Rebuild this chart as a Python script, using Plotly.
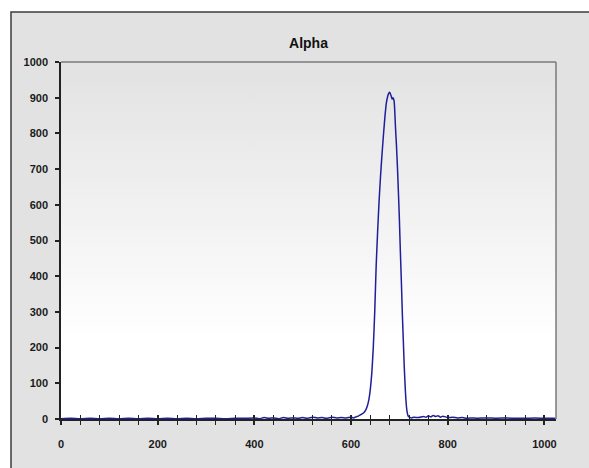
import plotly.graph_objects as go

# Spectrum channel positions and counts
channel = [0, 20, 40, 60, 80, 100, 120, 140, 160, 180, 200, 220, 240, 260, 280, 300,
           320, 340, 360, 380, 400, 410, 420, 430, 440, 450, 460, 470, 480, 490, 500,
           510, 520, 530, 540, 550, 560, 570, 580, 590, 600, 605, 610, 615, 620, 625,
           630, 634, 637, 640, 643, 646, 649, 652, 655, 658, 661, 664, 667, 670, 673,
           676, 678, 680, 683, 685, 687, 689, 690, 692, 694, 696, 698, 700, 702, 704,
           706, 708, 710, 712, 714, 716, 718, 720, 725, 730, 740, 750, 755, 760, 765,
           770, 775, 780, 785, 790, 800, 810, 820, 830, 840, 850, 860, 880, 900, 920,
           940, 960, 980, 1000, 1020, 1023]
counts = [1, 2, 1, 2, 1, 2, 1, 2, 1, 2, 1, 2, 1, 2, 1, 2,
          2, 1, 2, 2, 3, 1, 4, 2, 3, 1, 4, 2, 3, 2, 4,
          2, 5, 3, 4, 2, 5, 3, 4, 3, 5, 3, 6, 8, 12, 16,
          24, 38, 55, 85, 130, 200, 300, 430, 525, 610, 680, 740, 795, 845, 885,
          905, 912, 915, 905, 896, 900, 892, 875, 815, 765, 705, 635, 560, 470, 390,
          300, 225, 150, 90, 45, 20, 9, 6, 3, 5, 4, 7, 5, 9, 6,
          10, 7, 9, 5, 8, 4, 5, 3, 4, 2, 3, 2, 3, 2, 3,
          2, 2, 3, 2, 2, 1]

x_ticks = [0, 200, 400, 600, 800, 1000]
y_ticks = [0, 100, 200, 300, 400, 500, 600, 700, 800, 900, 1000]
x_range = [0, 1024]
y_range = [0, 1000]

W, H = 589, 468
L, R, T, B = 61, 33, 62, 48.5
pw, ph = W - L - R, H - T - B

tick_font = dict(family="Liberation Sans, Arial, sans-serif", size=11,
                 color="#1a1a1a", weight="bold")
line_dark = "#222222"

fig = go.Figure()

# plot-area background: light grey at the top fading to white toward the bottom
fig.add_trace(go.Scatter(
    x=[x_range[0], x_range[1], x_range[1], x_range[0], x_range[0]],
    y=[y_range[0], y_range[0], y_range[1], y_range[1], y_range[0]],
    fill="toself", mode="none", hoverinfo="skip", showlegend=False,
    fillgradient=dict(type="vertical",
                      colorscale=[[0, "#ffffff"], [0.22, "#ffffff"], [1, "#e2e2e2"]]),
))

fig.add_trace(go.Scatter(
    x=channel, y=counts, mode="lines",
    line=dict(color="#1f1f9a", width=1.5, shape="spline", smoothing=0.5),
    showlegend=False, hoverinfo="skip",
))

# phantom trace so the overlay axis carrying the inner ticks is rendered
fig.add_trace(go.Scatter(x=[None], y=[None], xaxis="x2", showlegend=False, hoverinfo="skip"))

fig.update_layout(
    width=W, height=H,
    margin=dict(l=L, r=R, t=T, b=B),
    paper_bgcolor="#ffffff",
    plot_bgcolor="rgba(0,0,0,0)",
    title=dict(text="<b>Alpha</b>", x=(L + pw / 2) / W, xanchor="center",
               y=1 - 43 / H, yanchor="middle", yref="container",
               font=dict(family="Liberation Sans, Arial, sans-serif", size=14, color="#111111")),
    xaxis=dict(
        range=x_range, tickmode="array", tickvals=x_ticks,
        ticktext=[str(v) for v in x_ticks],
        ticks="outside", ticklen=4, tickwidth=1.5, tickcolor=line_dark,
        minor=dict(dtick=40, tick0=0, ticks="outside", ticklen=4, tickwidth=1, tickcolor=line_dark),
        showline=True, linecolor=line_dark, linewidth=1.5,
        showgrid=False, zeroline=False, layer="below traces",
        tickfont=tick_font, ticklabelstandoff=10,
    ),
    xaxis2=dict(
        range=x_range, overlaying="x", side="bottom", anchor="y",
        tickmode="array", tickvals=x_ticks, showticklabels=False,
        ticks="inside", ticklen=4, tickwidth=1.5, tickcolor=line_dark,
        minor=dict(dtick=40, tick0=0, ticks="inside", ticklen=4, tickwidth=1, tickcolor=line_dark),
        showline=False, showgrid=False, zeroline=False,
    ),
    yaxis=dict(
        range=y_range, tickmode="array", tickvals=y_ticks,
        ticktext=[str(v) for v in y_ticks],
        ticks="outside", ticklen=4, tickwidth=1.5, tickcolor=line_dark,
        showline=True, linecolor=line_dark, linewidth=1.5,
        showgrid=False, zeroline=False,
        tickfont=tick_font, ticklabelstandoff=5,
    ),
    shapes=[
        # outer chart frame
        dict(type="rect", xref="paper", yref="paper", layer="below",
             x0=(11 - L) / pw, x1=(W + 20 - L) / pw,
             y0=-(B + 20) / ph, y1=1 + (T - 12) / ph,
             fillcolor="#e2e2e2", line=dict(color="#3c3c3c", width=1.5)),
        # top and right edges of the plot area
        dict(type="line", xref="paper", yref="paper", layer="above",
             x0=0, x1=1, y0=1, y1=1, line=dict(color="#7a7a7a", width=1.5)),
        dict(type="line", xref="paper", yref="paper", layer="above",
             x0=1, x1=1, y0=0, y1=1, line=dict(color="#7a7a7a", width=1.5)),
    ],
)

fig.write_html("out.html")
